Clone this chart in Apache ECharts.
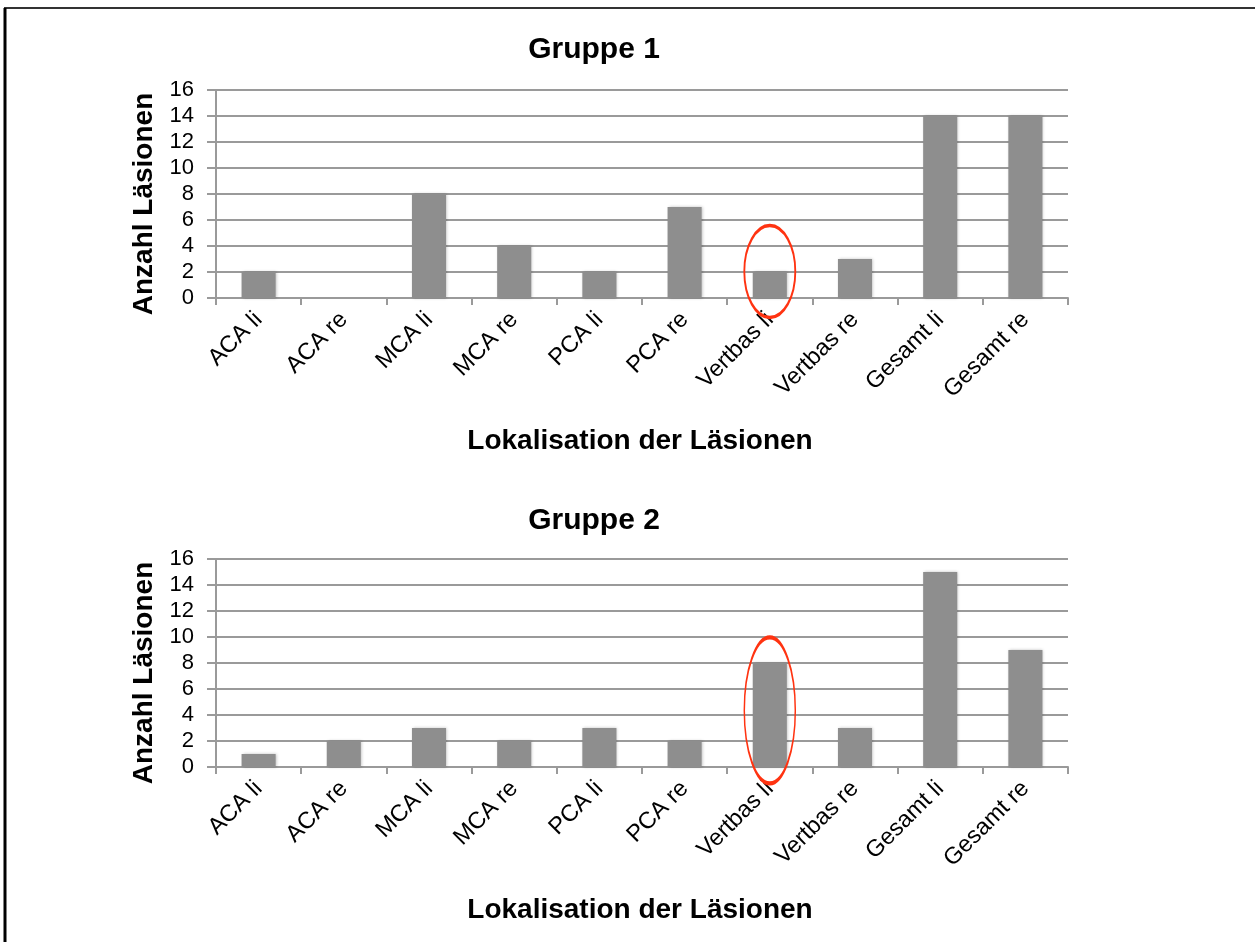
<!DOCTYPE html>
<html>
<head>
<meta charset="utf-8">
<script src="https://cdn.jsdelivr.net/npm/echarts@6/dist/echarts.min.js"></script>
<style>html,body{margin:0;padding:0;background:#fff}#c{width:1255px;height:942px}</style>
</head>
<body>
<div id="c"></div>
<script>
const categories = ['ACA li','ACA re','MCA li','MCA re','PCA li','PCA re','Vertbas li','Vertbas re','Gesamt li','Gesamt re'];
const gruppe1 = [2, 0, 8, 4, 2, 7, 2, 3, 14, 14];
const gruppe2 = [1, 2, 3, 2, 3, 2, 8, 3, 15, 9];
const yTicks = [0, 2, 4, 6, 8, 10, 12, 14, 16];
const titles = ['Gruppe 1', 'Gruppe 2'];
const xName = 'Lokalisation der Läsionen';
const yName = 'Anzahl Läsionen';

const FONT = '"Liberation Sans", Arial, Helvetica, sans-serif';
const GRID_C = '#9a9a9a';
const BAR_C = '#8e8e8e';
const RED = '#ff3311';
const ellipsePath = 'path://M0,50A50,50,0,1,1,100,50A50,50,0,1,1,0,50Z';

const chart = echarts.init(document.getElementById('c'), null, {renderer: 'canvas'});

function xAxis(idx) {
  return {
    type: 'category', gridIndex: idx, data: categories,
    name: xName, nameLocation: 'middle', nameGap: 129,
    nameTextStyle: {fontFamily: FONT, fontSize: 28, fontWeight: 'bold', color: '#000', padding: [0, 4, 0, 0]},
    axisLine: {show: true, lineStyle: {color: GRID_C, width: 2}},
    axisTick: {show: true, length: 7, lineStyle: {color: GRID_C, width: 2}},
    axisLabel: {rotate: 45, margin: 18, fontFamily: FONT, fontSize: 23.5, color: '#000', interval: 0},
    splitLine: {show: false}
  };
}
function yAxis(idx) {
  return {
    type: 'value', gridIndex: idx, min: yTicks[0], max: yTicks[yTicks.length - 1], interval: yTicks[1] - yTicks[0],
    name: yName, nameLocation: 'middle', nameGap: 55, nameRotate: 90,
    nameTextStyle: {fontFamily: FONT, fontSize: 28, fontWeight: 'bold', color: '#000', padding: [0, 20, 0, 0]},
    axisLine: {show: true, lineStyle: {color: GRID_C, width: 2}},
    axisTick: {show: true, length: 9, lineStyle: {color: GRID_C, width: 2}},
    axisLabel: {margin: 22, fontFamily: FONT, fontSize: 22, color: '#000'},
    splitLine: {show: true, lineStyle: {color: GRID_C, width: 2}}
  };
}
function series(idx, data, markValue, markSize) {
  return {
    type: 'bar', xAxisIndex: idx, yAxisIndex: idx, data: data,
    barWidth: '40%',
    itemStyle: {color: BAR_C, shadowColor: 'rgba(0,0,0,0.25)', shadowBlur: 3, shadowOffsetX: 1},
    markPoint: {
      symbol: ellipsePath, symbolSize: markSize, silent: true,
      label: {show: false},
      itemStyle: {color: 'transparent', borderColor: RED, borderWidth: 2.5},
      data: [{coord: ['Vertbas li', markValue]}]
    }
  };
}

chart.setOption({
  animation: false,
  backgroundColor: '#fff',
  title: [
    {text: titles[0], left: 589, top: 30, textAlign: 'center', textStyle: {fontFamily: FONT, fontSize: 30, fontWeight: 'bold', color: '#000'}},
    {text: titles[1], left: 589, top: 501, textAlign: 'center', textStyle: {fontFamily: FONT, fontSize: 30, fontWeight: 'bold', color: '#000'}}
  ],
  grid: [
    {left: 216, top: 90, width: 852, height: 208},
    {left: 216, top: 559, width: 852, height: 208}
  ],
  xAxis: [xAxis(0), xAxis(1)],
  yAxis: [yAxis(0), yAxis(1)],
  series: [
    series(0, gruppe1, 2.04, [51, 92]),
    series(1, gruppe2, 4.35, [51, 146])
  ],
  graphic: [
    {type: 'line', shape: {x1: 4, y1: 8, x2: 1260, y2: 8}, style: {stroke: '#333', lineWidth: 2}},
    {type: 'line', shape: {x1: 5, y1: 8, x2: 5, y2: 950}, style: {stroke: '#000', lineWidth: 3}}
  ]
});
</script>
</body>
</html>
